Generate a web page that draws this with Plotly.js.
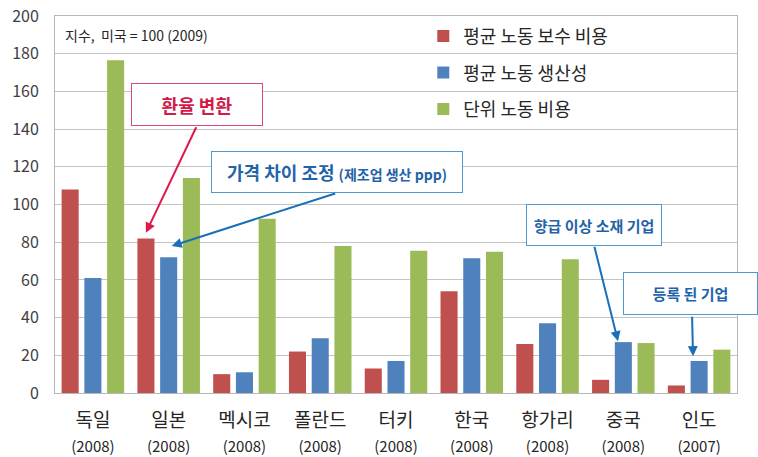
<!DOCTYPE html>
<html>
<head>
<meta charset="utf-8">
<script src="https://cdn.plot.ly/plotly-3.0.1.min.js"></script>
<style>html,body{margin:0;padding:0;background:#fff;}#chart{width:758px;height:457px;}</style>
</head>
<body>
<div id="chart"></div>
<script>
const countries = ["독일", "일본", "멕시코", "폴란드", "터키", "한국", "항가리", "중국", "인도"];
const years = ["(2008)", "(2008)", "(2008)", "(2008)", "(2008)", "(2008)", "(2008)", "(2008)", "(2007)"];
const seriesNames = ["평균 노동 보수 비용", "평균 노동 생산성", "단위 노동 비용"];
const compensation = [108, 82, 10, 22, 13, 54, 26, 7, 4];
const productivity = [61, 72, 11, 29, 17, 71.5, 37, 27, 17];
const unitLaborCost = [176.5, 114, 92.5, 78, 75.5, 75, 71, 26.5, 23];
const yTicks = [0, 20, 40, 60, 80, 100, 120, 140, 160, 180, 200];

const FONT = '"Noto Sans CJK KR", "Noto Sans", sans-serif';
const colors = ["#c0504d", "#4f81bd", "#9bbb59"];
const labels = countries.map((c, i) => c + "<br><span style='font-size:15px'>" + years[i] + "</span>");
const idx = countries.map((c, i) => i);

const values = [compensation, productivity, unitLaborCost];
const traces = values.map((v, k) => ({
  type: "bar",
  x: idx,
  y: v,
  name: seriesNames[k],
  legendgroup: "g" + k,
  marker: {color: colors[k]},
  hoverinfo: "y"
}));

const blue = "#1f63a8";
const layout = {
  width: 758, height: 457,
  margin: {l: 55, r: 21, t: 16, b: 64},
  paper_bgcolor: "#fff", plot_bgcolor: "#fff",
  font: {family: FONT, color: "#262626"},
  barmode: "group",
  bargap: 0.10,
  bargroupgap: 0.25,
  showlegend: true,
  legend: {
    x: 0.54, y: 0.995, xanchor: "left", yanchor: "top",
    bgcolor: "rgba(0,0,0,0)",
    font: {size: 18, family: FONT, color: "#262626"},
    traceorder: "grouped", tracegroupgap: 10, itemwidth: 30
  },
  xaxis: {
    tickmode: "array", tickvals: idx, ticktext: labels,
    range: [-0.5, countries.length - 0.5],
    showline: true, mirror: true, linecolor: "#b7b7b7", linewidth: 1,
    ticks: "", showgrid: false, zeroline: false, ticklabelstandoff: 10,
    tickfont: {size: 19, family: FONT, color: "#262626"}
  },
  yaxis: {
    range: [0, 200], tickmode: "array", tickvals: yTicks,
    showline: true, mirror: true, linecolor: "#b7b7b7", linewidth: 1,
    gridcolor: "#c4c4c4", gridwidth: 1, zeroline: false, ticks: "", ticklabelstandoff: 12,
    tickfont: {size: 16, family: FONT, color: "#404040"}
  },
  annotations: [
    {xref: "paper", yref: "paper", x: 0.012, y: 0.95, xanchor: "left", yanchor: "middle",
     text: "지수,  미국 = 100 (2009)", showarrow: false, font: {size: 14, color: "#262626"}},
    // box 1
    {xref: "paper", yref: "paper", x: 0.208, y: 0.765, xanchor: "center", yanchor: "middle",
     text: "<b>환율 변환</b>", showarrow: false, width: 128, height: 39,
     bgcolor: "#fff", bordercolor: "#d9477c", borderwidth: 1, borderpad: 1,
     font: {size: 18, color: "#d21a4a"}},
    // box 2
    {xref: "paper", yref: "paper", x: 0.4135, y: 0.586, xanchor: "center", yanchor: "middle",
     text: "<b>가격 차이 조정 <span style='font-size:14px'>(제조업 생산 ppp)</span></b>", showarrow: false, width: 248, height: 38,
     bgcolor: "#fff", bordercolor: "#4f9ad0", borderwidth: 1, borderpad: 1,
     font: {size: 18, color: blue}},
    // box 3
    {xref: "paper", yref: "paper", x: 0.790, y: 0.446, xanchor: "center", yanchor: "middle",
     text: "<b>향급 이상 소재 기업</b>", showarrow: false, width: 132, height: 38,
     bgcolor: "#fff", bordercolor: "#4f9ad0", borderwidth: 1, borderpad: 1,
     font: {size: 15, color: blue}},
    // box 4
    {xref: "paper", yref: "paper", x: 0.932, y: 0.264, xanchor: "center", yanchor: "middle",
     text: "<b>등록 된 기업</b>", showarrow: false, width: 131, height: 39,
     bgcolor: "#fff", bordercolor: "#4f9ad0", borderwidth: 1, borderpad: 1,
     font: {size: 15, color: blue}},
    // arrows
    {xref: "x", yref: "y", x: 0.70, y: 85, ax: 51, ay: -107, text: "", showarrow: true,
     arrowhead: 2, arrowsize: 1, arrowwidth: 2, arrowcolor: "#e0194b", startstandoff: 0},
    {xref: "x", yref: "y", x: 1.04, y: 78, ax: 165, ay: -53, text: "", showarrow: true,
     arrowhead: 2, arrowsize: 1, arrowwidth: 2, arrowcolor: "#1a6fb8", startstandoff: 0},
    {xref: "x", yref: "y", x: 6.93, y: 27.5, ax: -24, ay: -96, text: "", showarrow: true,
     arrowhead: 2, arrowsize: 1, arrowwidth: 2, arrowcolor: "#1a6fb8", startstandoff: 0},
    {xref: "x", yref: "y", x: 7.92, y: 19.5, ax: -1, ay: -41, text: "", showarrow: true,
     arrowhead: 2, arrowsize: 1, arrowwidth: 2, arrowcolor: "#1a6fb8", startstandoff: 0}
  ]
};

Plotly.newPlot("chart", traces, layout, {displayModeBar: false, staticPlot: true});
</script>
</body>
</html>
